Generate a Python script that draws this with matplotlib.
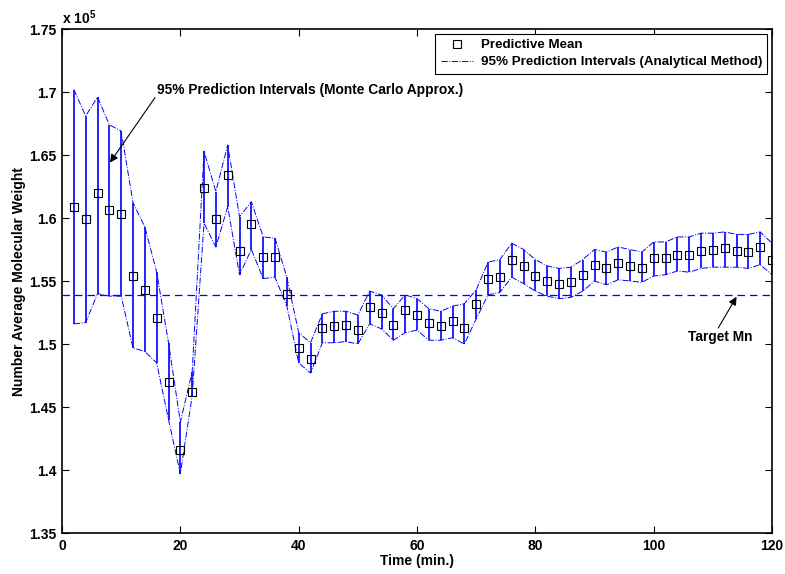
import numpy as np
import matplotlib.pyplot as plt
from matplotlib.ticker import FuncFormatter

plt.rcParams['font.family'] = ['Liberation Sans', 'DejaVu Sans']
plt.rcParams['font.weight'] = 'bold'
plt.rcParams['mathtext.fontset'] = 'custom'
plt.rcParams['mathtext.rm'] = 'Liberation Sans:bold'
plt.rcParams['mathtext.bf'] = 'Liberation Sans:bold'

# tempo (min) e valores em unidades de 1e5
time = np.arange(2, 121, 2)

mean_mn = [1.609, 1.599, 1.620, 1.606, 1.603, 1.554, 1.543, 1.521, 1.470, 1.416,
           1.462, 1.624, 1.599, 1.634, 1.574, 1.595, 1.569, 1.569, 1.540, 1.497,
           1.488, 1.513, 1.514, 1.515, 1.511, 1.529, 1.525, 1.515, 1.527, 1.523,
           1.517, 1.514, 1.518, 1.513, 1.532, 1.552, 1.553, 1.567, 1.562, 1.554,
           1.550, 1.548, 1.549, 1.555, 1.563, 1.560, 1.564, 1.562, 1.560, 1.568,
           1.568, 1.571, 1.571, 1.574, 1.575, 1.576, 1.574, 1.573, 1.577, 1.567]

upper_pi = [1.702, 1.681, 1.696, 1.674, 1.669, 1.612, 1.593, 1.557, 1.501, 1.438,
            1.478, 1.653, 1.621, 1.658, 1.601, 1.613, 1.585, 1.584, 1.553, 1.509,
            1.501, 1.524, 1.526, 1.526, 1.523, 1.542, 1.539, 1.528, 1.539, 1.536,
            1.528, 1.526, 1.530, 1.532, 1.543, 1.565, 1.567, 1.580, 1.575, 1.567,
            1.562, 1.560, 1.561, 1.567, 1.575, 1.573, 1.577, 1.575, 1.573, 1.581,
            1.581, 1.585, 1.585, 1.588, 1.588, 1.589, 1.587, 1.587, 1.589, 1.580]

lower_pi = [1.516, 1.517, 1.540, 1.538, 1.538, 1.497, 1.494, 1.485, 1.440, 1.397,
            1.459, 1.596, 1.577, 1.609, 1.555, 1.575, 1.552, 1.553, 1.530, 1.485,
            1.477, 1.501, 1.501, 1.502, 1.500, 1.516, 1.512, 1.503, 1.509, 1.511,
            1.503, 1.503, 1.505, 1.500, 1.520, 1.539, 1.541, 1.553, 1.548, 1.542,
            1.538, 1.536, 1.537, 1.542, 1.550, 1.547, 1.551, 1.550, 1.549, 1.554,
            1.555, 1.558, 1.557, 1.560, 1.561, 1.561, 1.561, 1.560, 1.563, 1.555]

target_mn = 1.539

fig = plt.figure(figsize=(7.85, 5.74), dpi=100)
ax = fig.add_axes([0.079, 0.0714, 0.9045, 0.878])

blue = '#0000ff'

# intervalos Monte Carlo (linhas verticais)
ax.vlines(time, lower_pi, upper_pi, colors=blue, lw=1.2)
# intervalos analiticos (traco-ponto)
ax.plot(time, upper_pi, color=blue, ls='-.', lw=0.7,
        label='95% Prediction Intervals (Analytical Method)')
ax.plot(time, lower_pi, color=blue, ls='-.', lw=0.7)
# media
ax.plot(time, mean_mn, ls='none', marker='s', ms=5.5, mfc='none', mec='black',
        mew=0.8, label='Predictive Mean')
# alvo
ax.axhline(target_mn, color=blue, ls=(0, (6, 4)), lw=0.9)

arrow = dict(arrowstyle='-|>', color='black', lw=0.8, mutation_scale=12,
             shrinkA=0, shrinkB=0)
ax.text(16, 1.7015, '95% Prediction Intervals (Monte Carlo Approx.)',
        fontsize=9.9, fontweight='bold', va='center')
ax.annotate('', xy=(8.1, 1.644), xytext=(15.7, 1.6955), arrowprops=arrow)
ax.text(111.2, 1.5058, 'Target Mn', fontsize=9.9, fontweight='bold',
        ha='center', va='center')
ax.annotate('', xy=(114.0, 1.5375), xytext=(110.9, 1.5127), arrowprops=arrow)

ax.set_xlim(0, 120)
ax.set_ylim(1.35, 1.75)
ax.set_xticks(np.arange(0, 121, 20))
ax.set_yticks(np.arange(1.35, 1.751, 0.05))
ax.yaxis.set_major_formatter(FuncFormatter(lambda v, p: '%g' % round(v, 2)))
ax.tick_params(direction='in', top=True, right=True, length=5, width=0.8,
               labelsize=10, pad=4)
for s in ax.spines.values():
    s.set_linewidth(1.2)

ax.text(0, 1.004, r'x 10$^{\mathbf{5}}$', transform=ax.transAxes,
        ha='left', va='bottom', fontsize=10, fontweight='bold')

ax.set_xlabel('Time (min.)', fontsize=10, fontweight='bold', labelpad=1)
ax.set_ylabel('Number Average Molecular Weight', fontsize=10, fontweight='bold',
              labelpad=2)

h, l = ax.get_legend_handles_labels()
leg = ax.legend(h[::-1], l[::-1], loc='upper right', fancybox=False,
                edgecolor='black', framealpha=1, borderaxespad=0.35,
                handlelength=2.4, handletextpad=0.6, borderpad=0.4,
                labelspacing=0.35, prop={'weight': 'bold', 'size': 9.6})
leg.get_frame().set_linewidth(0.8)

fig.savefig('out.png', dpi=100)
